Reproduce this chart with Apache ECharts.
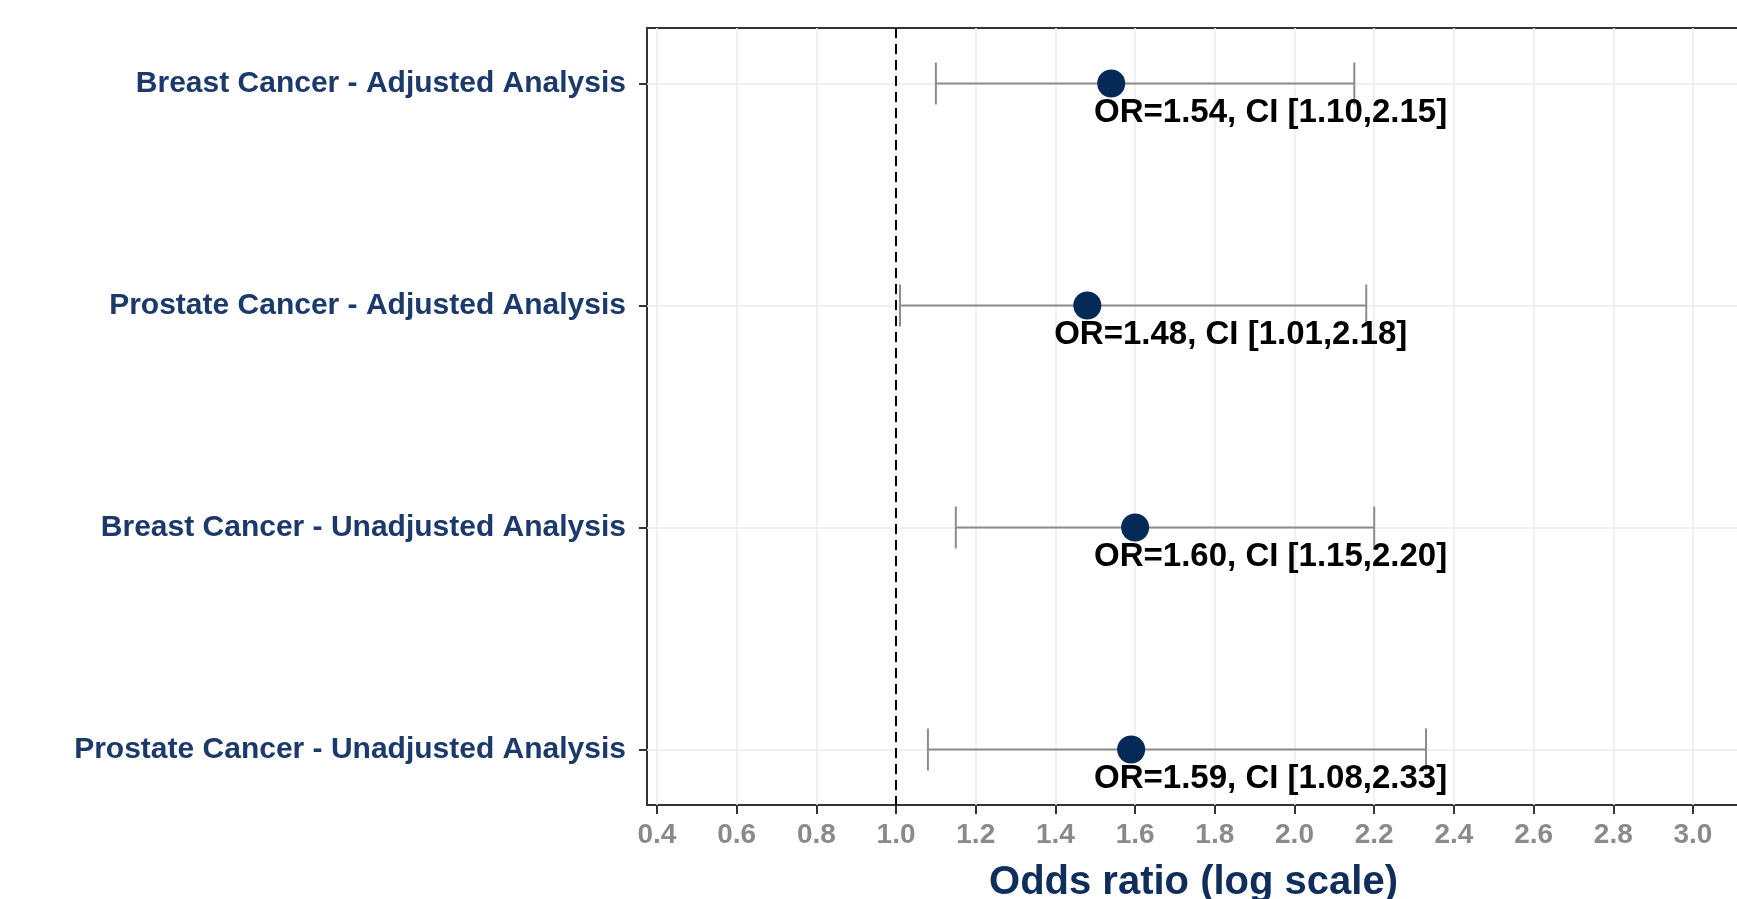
<!DOCTYPE html>
<html>
<head>
<meta charset="utf-8">
<script src="https://cdn.jsdelivr.net/npm/echarts@6/dist/echarts.min.js"></script>
<style>
  html, body { margin: 0; padding: 0; background: #ffffff; }
  #chart { width: 1737px; height: 899px; }
</style>
</head>
<body>
<div id="chart"></div>
<script>
// ---- data ----
const categories = [
  'Breast Cancer - Adjusted Analysis',
  'Prostate Cancer - Adjusted Analysis',
  'Breast Cancer - Unadjusted Analysis',
  'Prostate Cancer - Unadjusted Analysis'
];
const oddsRatio = [1.54, 1.48, 1.60, 1.59];
const ciLower = [1.10, 1.01, 1.15, 1.08];
const ciUpper = [2.15, 2.18, 2.20, 2.33];
const labelX = [1.94, 1.84, 1.94, 1.94];
const xTicks = [0.4, 0.6, 0.8, 1.0, 1.2, 1.4, 1.6, 1.8, 2.0, 2.2, 2.4, 2.6, 2.8, 3.0];
const yTicks = [0, 1, 2, 3];
const referenceOR = 1.0;
const xTitle = 'Odds ratio (log scale)';

const labels = oddsRatio.map((v, i) =>
  'OR=' + v.toFixed(2) + ', CI [' + ciLower[i].toFixed(2) + ',' + ciUpper[i].toFixed(2) + ']');

const chart = echarts.init(document.getElementById('chart'), null, { renderer: 'canvas' });

const option = {
  backgroundColor: '#ffffff',
  animation: false,
  grid: {
    left: 647, right: -3, top: 28, bottom: 94,
    outerBoundsMode: 'none',
    containLabel: false,
    show: true, borderColor: '#333333', borderWidth: 2, backgroundColor: 'transparent'
  },
  xAxis: {
    type: 'value',
    min: 0.375, max: 3.118,
    name: xTitle,
    nameLocation: 'middle',
    nameGap: 58,
    nameTextStyle: { fontFamily: 'Liberation Sans, Arial, sans-serif', fontWeight: 'bold', fontSize: 40, color: '#0f2e5c' },
    axisLine: { show: false, onZero: false },
    axisTick: { show: true, customValues: xTicks, length: 9, lineStyle: { color: '#333333', width: 2 } },
    axisLabel: {
      show: true, customValues: xTicks, margin: 16,
      formatter: v => v.toFixed(1),
      fontFamily: 'Liberation Sans, Arial, sans-serif', fontWeight: 'bold', fontSize: 28, color: '#8a8a8a'
    },
    splitLine: { show: true, lineStyle: { color: '#ebebeb', width: 1.5 } }
  },
  yAxis: {
    type: 'value',
    inverse: true,
    min: -0.25, max: 3.25,
    axisLine: { show: false, onZero: false },
    axisTick: { show: true, customValues: yTicks, length: 8, lineStyle: { color: '#333333', width: 2 } },
    axisLabel: {
      show: true, customValues: yTicks, margin: 21,
      formatter: v => categories[Math.round(v)] || '',
      fontFamily: 'Liberation Sans, Arial, sans-serif', fontWeight: 'bold', fontSize: 30, color: '#1b3a6b'
    },
    splitLine: { show: true, lineStyle: { color: '#ebebeb', width: 1.5 } }
  },
  series: [
    {
      type: 'custom',
      name: 'CI',
      z: 3,
      encode: { x: [0, 1], y: 2 },
      data: categories.map((c, i) => [ciLower[i], ciUpper[i], i]),
      renderItem: function (params, api) {
        const p0 = api.coord([api.value(0), api.value(2)]);
        const p1 = api.coord([api.value(1), api.value(2)]);
        const h = 21;
        const st = { stroke: '#8c8c8c', lineWidth: 2 };
        return {
          type: 'group',
          children: [
            { type: 'line', shape: { x1: p0[0], y1: p0[1], x2: p1[0], y2: p1[1] }, style: st },
            { type: 'line', shape: { x1: p0[0], y1: p0[1] - h, x2: p0[0], y2: p0[1] + h }, style: st },
            { type: 'line', shape: { x1: p1[0], y1: p1[1] - h, x2: p1[0], y2: p1[1] + h }, style: st }
          ]
        };
      }
    },
    {
      type: 'scatter',
      name: 'OR',
      z: 4,
      symbol: 'circle',
      symbolSize: 28,
      itemStyle: { color: '#062a57', opacity: 1 },
      data: oddsRatio.map((v, i) => [v, i]),
      markLine: {
        silent: true,
        symbol: 'none',
        label: { show: false },
        lineStyle: { color: '#000000', width: 2, type: [10, 6] },
        data: [{ xAxis: referenceOR }]
      }
    },
    {
      type: 'scatter',
      name: 'labels',
      z: 5,
      symbolSize: 0,
      itemStyle: { color: 'transparent', opacity: 1 },
      data: labelX.map((v, i) => [v, i]),
      label: {
        show: true,
        position: 'inside',
        offset: [0, 29],
        formatter: p => labels[p.dataIndex],
        fontFamily: 'Liberation Sans, Arial, sans-serif',
        fontWeight: 'bold',
        fontSize: 33,
        color: '#000000',
        opacity: 1,
        textBorderWidth: 0,
        align: 'center',
        verticalAlign: 'middle'
      }
    }
  ]
};
chart.setOption(option);
</script>
</body>
</html>
